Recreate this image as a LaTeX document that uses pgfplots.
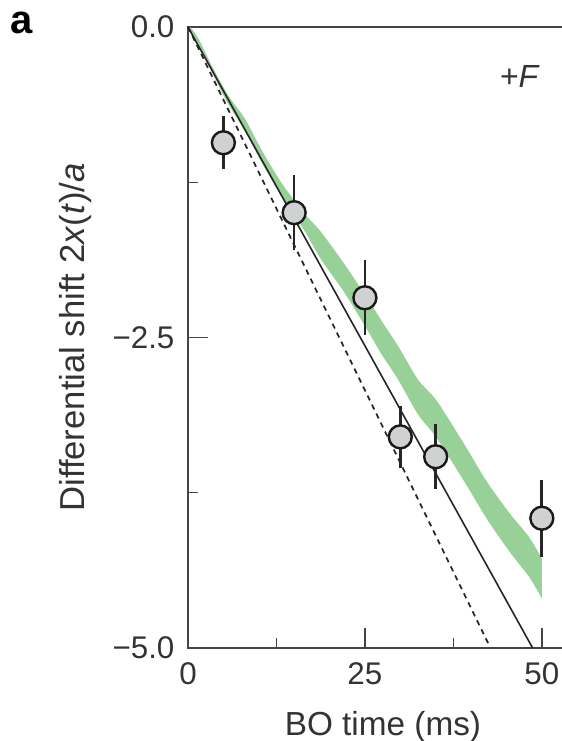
\documentclass[border=0pt]{standalone}
\usepackage{fontspec}
\setmainfont{Liberation Sans}
\usepackage{pgfplots}
\usepgfplotslibrary{fillbetween}
\pgfplotsset{compat=1.18}
\definecolor{band}{HTML}{97D197}
\definecolor{mk}{HTML}{CFD1D2}
\definecolor{txt}{HTML}{333333}
\definecolor{ax}{HTML}{444444}

\pgfplotstableread{
x upper lower
0.3 0.0 -0.03
1.5 -0.095 -0.135
3.4 -0.316 -0.366
5.65 -0.548 -0.618
8.05 -0.739 -0.839
10.5 -1.00 -1.10
13.3 -1.262 -1.372
16.5 -1.505 -1.645
18.8 -1.651 -1.871
22.2 -1.917 -2.147
25.85 -2.229 -2.489
27.3 -2.361 -2.631
29.7 -2.570 -2.840
32.5 -2.839 -3.119
35.2 -3.014 -3.314
39.4 -3.393 -3.693
42.2 -3.658 -3.958
45.5 -3.919 -4.229
48.2 -4.107 -4.427
50.0 -4.28 -4.60
}\bandtable

\pgfplotstableread{
x y err
5 -0.932 0.215
15 -1.495 0.30
25 -2.18 0.30
30 -3.30 0.25
35 -3.46 0.26
50 -3.955 0.31
}\datatable

\begin{document}
\begin{tikzpicture}
\begin{axis}[
  at={(0,0)}, anchor=south west,
  scale only axis, width=285pt, height=465.75pt,
  xmin=0, xmax=53.7, ymin=-5, ymax=0,
  clip=false,
  axis line style={ax, line width=1.1pt},
  xtick={0,25,50}, xticklabels={0,25,50},
  minor xtick={12.5,37.5},
  ytick={-5,-2.5,0}, yticklabels={−5.0,−2.5,0.0},
  minor ytick={-3.75,-1.25},
  xtick pos=left, ytick pos=left,
  tick align=inside,
  major tick length=15pt, minor tick length=7.5pt,
  every tick/.style={ax, line width=1.1pt},
  every tick label/.append style={inner sep=0pt, text=txt, font=\fontsize{23.5}{23.5}\selectfont},
  yticklabel shift=10pt, xticklabel shift=11pt,
  xlabel={BO time (ms)},
  ylabel={Differential shift 2\textit{x}(\textit{t})/\textit{a}},
  every axis x label/.style={at={(rel axis cs:0.513,-0.1272)}, anchor=center, text=txt, font=\fontsize{25}{25}\selectfont},
  every axis y label/.style={at={(rel axis cs:-0.2947,0.5)}, rotate=90, anchor=center, text=txt, font=\fontsize{26}{26}\selectfont},
]
\addplot[name path=U, draw=none, smooth, tension=0.5] table[x=x, y=upper] {\bandtable};
\addplot[name path=L, draw=none, smooth, tension=0.5] table[x=x, y=lower] {\bandtable};
\addplot[band, draw=none] fill between[of=U and L];

\addplot[black!85, line width=1.3pt, dash pattern=on 4pt off 3.5pt] coordinates {(0,0) (42.4,-4.96)};
\addplot[black!85, line width=1.2pt] coordinates {(0,0) (48.7,-5)};

\addplot[draw=none, mark=none,
  error bars/.cd, y dir=both, y explicit, error mark=none,
  error bar style={line width=2pt, black!85}]
  table[x=x, y=y, y error=err] {\datatable};
\addplot[only marks, mark=*, mark size=8.6pt,
  mark options={fill=mk, draw=black!90, line width=1.8pt}]
  table[x=x, y=y] {\datatable};

\node[text=txt, font=\fontsize{24}{24}\selectfont] at (axis cs:46.9,-0.40) {+\textit{F}};
\node[font=\bfseries\fontsize{30}{30}\selectfont] at (rel axis cs:-0.4368,1.006) {a};
\end{axis}
\pgfresetboundingbox
\useasboundingbox (-141pt,-69.75pt) rectangle (279.75pt,486pt);
\end{tikzpicture}
\end{document}
